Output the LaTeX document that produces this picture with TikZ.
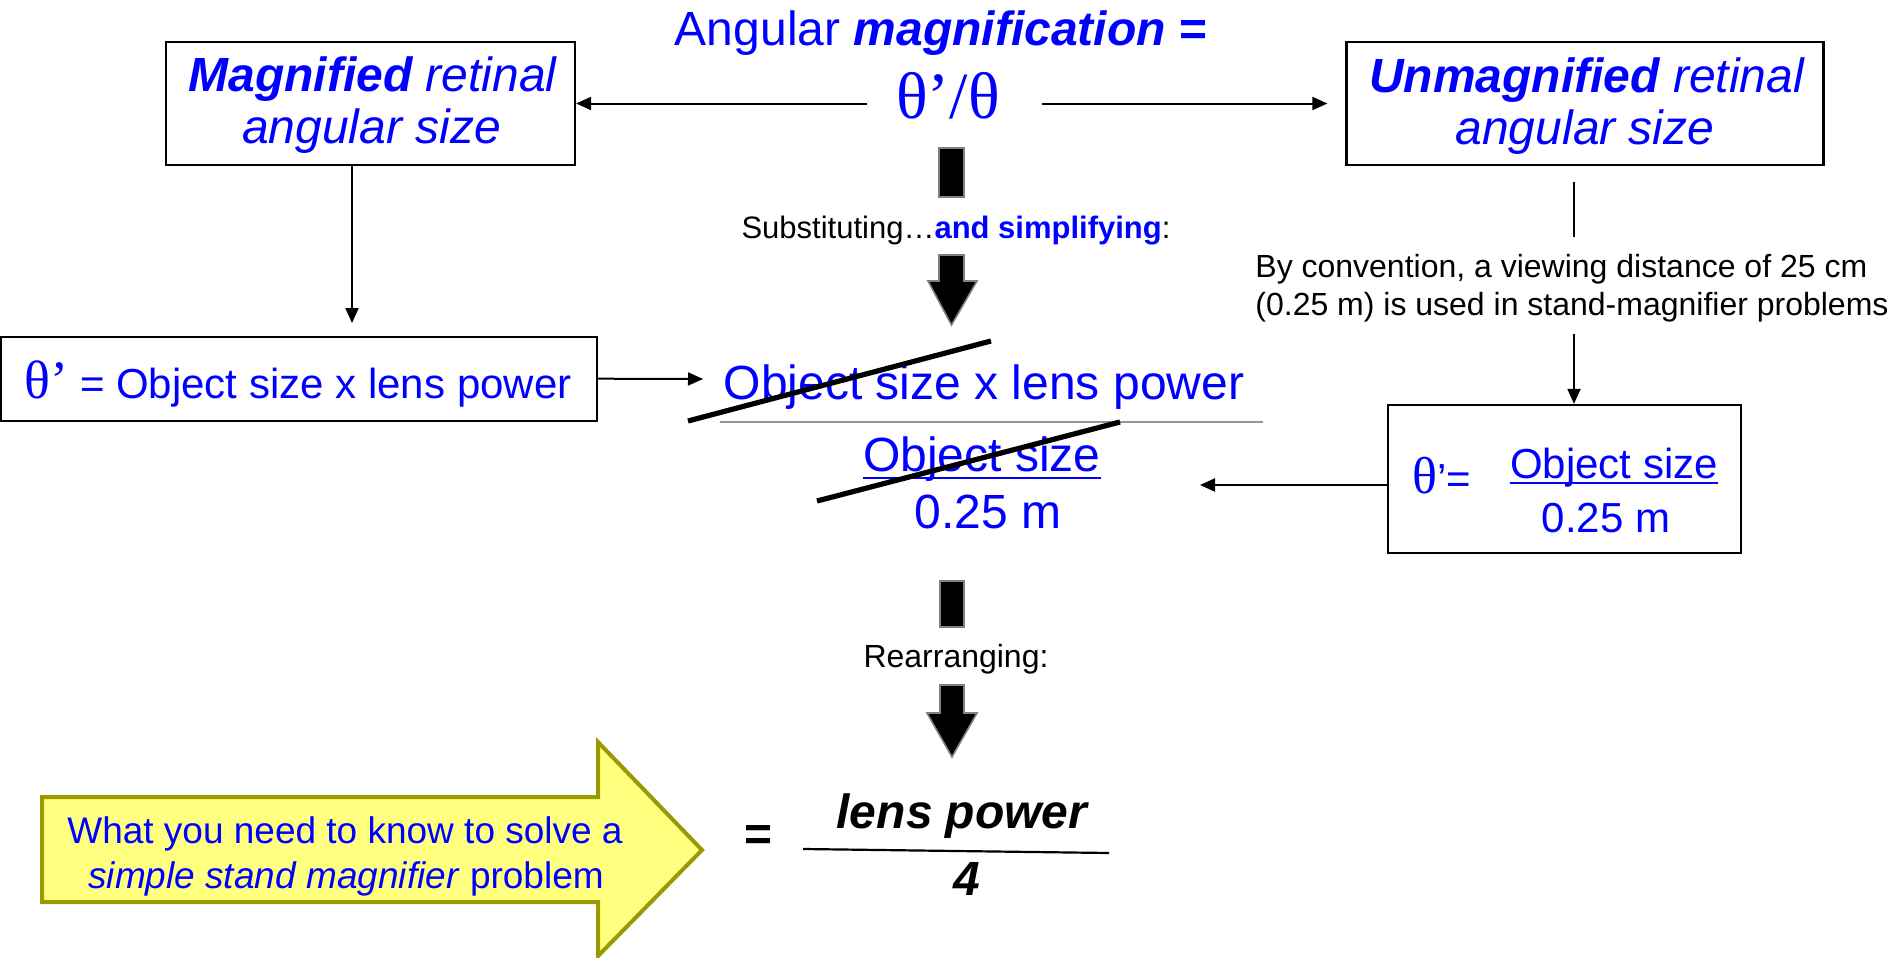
\documentclass[tikz,border=0pt]{standalone}
\usepackage{fontspec}
\setmainfont{Liberation Sans}
\newfontfamily\tms{Liberation Serif}
\usetikzlibrary{arrows.meta}
\definecolor{tblue}{RGB}{0,0,255}
\definecolor{olivebd}{RGB}{153,153,0}
\definecolor{lyellow}{RGB}{255,255,128}
\definecolor{fracgrey}{RGB}{150,150,150}
\newcommand\myfs[1]{\fontsize{#1}{#1}\selectfont}
\begin{document}
\begin{tikzpicture}[x=0.5pt,y=-0.5pt,
  box/.style={draw=black, line width=1.1pt, inner sep=0pt},
  txt/.style={anchor=base, inner sep=0pt, text=tblue},
  btxt/.style={anchor=base, inner sep=0pt, text=black},
  conn/.style={line width=1pt, -{Triangle[length=7.5pt,width=6.5pt]}},
  plainline/.style={line width=1pt},
  blk/.style={fill=black, draw=gray, line width=0.8pt},
  strike/.style={line width=2.6pt, black},
  uline/.style={line width=1pt, tblue}]
\useasboundingbox (0,0) rectangle (1891,958);

% top
\node[txt, font=\myfs{24}] (title) at (941,45) {Angular \textbf{\textit{magnification}} \textbf{=}};
\node[txt, font=\tms\myfs{33}] (ratio) at (948,118) {θ’/θ};

\node[box, minimum width=204.5pt, minimum height=61.5pt] (magbox) at (370.5,103.5) {};
\node[txt, font=\myfs{24}\itshape] (magt1) at (372.6,91) {\textbf{Magnified} retinal};
\node[txt, font=\myfs{24}\itshape] (magt2) at (371.5,143) {angular size};

\node[box, minimum width=238.5pt, minimum height=61.5pt] (unmagbox) at (1585,103.5) {};
\node[txt, font=\myfs{24}\itshape] (unmt1) at (1586.5,92) {\textbf{Unmagnified} retinal};
\node[txt, font=\myfs{24}\itshape] (unmt2) at (1585,144) {angular size};

\draw[conn, shorten <=14.5pt] (ratio.west |- magbox.east) -- (magbox.east);
\draw[conn, shorten <=21pt, shorten >=9pt] (ratio.east |- unmagbox.west) -- (unmagbox.west);

% theta' box
\node[box, minimum width=298pt, minimum height=42pt] (thbox) at (299,378.7) {};
\node[txt, font=\myfs{21}] (tht) at (298,398) {{\tms\myfs{27}θ’} = Object size x lens power};
\coordinate (m1) at (352,323);
\draw[conn] (magbox.south -| m1) -- (m1);
\coordinate (m2) at (703,379);
\draw[conn] (thbox.east) -- (m2);

% central fraction
\node[txt, font=\myfs{24}] (numer) at (984,399) {Object size x lens power};
\draw[line width=1pt, fracgrey] (720,422) -- (1263,422);
\node[txt, font=\myfs{24}] (dobj) at (982,471) {Object size};
\draw[uline] ([yshift=-3.5pt]dobj.base west) -- ([yshift=-3.5pt]dobj.base east);
\node[txt, font=\myfs{24}] (dm) at (988,528) {0.25 m};
\draw[strike] (688,421) -- (991,341);
\draw[strike] (817,501) -- (1120,422);

% convention text and eq box
\node[btxt, font=\myfs{16}, anchor=base west] (conv1) at (1255,277) {By convention, a viewing distance of 25 cm};
\node[btxt, font=\myfs{16}, anchor=base west] (conv2) at (1255,315) {(0.25 m) is used in stand-magnifier problems};
\coordinate (u2) at (1574,237);
\draw[plainline, shorten <=8pt] (unmagbox.south -| u2) -- (u2);
\coordinate (u3) at (1574,334);

\node[box, minimum width=176.5pt, minimum height=74pt] (eqbox) at (1564.5,479) {};
\draw[conn] (u3) -- (eqbox.north -| u3);
\node[txt] (eqth) at (1442,493) {{\tms\myfs{26}θ}{\myfs{21}’=}};
\node[txt, font=\myfs{21}] (eobj) at (1614,478) {Object size};
\draw[uline] ([yshift=-2.5pt]eobj.base west) -- ([yshift=-2.5pt]eobj.base east);
\node[txt, font=\myfs{21}] (em) at (1606,532) {0.25 m};
\coordinate (m3) at (1200,485);
\draw[conn] (eqbox.west |- m3) -- (m3);

% block arrows
\draw[blk] (939,148) rectangle (964,197);
\node[btxt, font=\myfs{15.5}] (subst) at (956,238) {Substituting…\textcolor{tblue}{\textbf{and simplifying}}:};
\draw[blk] (939,255) -- (964,255) -- (964,281) -- (977,281) -- (951.5,325) -- (928,281) -- (939,281) -- cycle;

\draw[blk] (940,581) rectangle (964,627);
\node[btxt, font=\myfs{16}] (rearr) at (956,667) {Rearranging:};
\draw[blk] (940,685) -- (964,685) -- (964,713) -- (977,713) -- (952,757) -- (927,713) -- (940,713) -- cycle;

% yellow arrow
\draw[fill=lyellow, draw=olivebd, line width=2pt] (42,797) -- (598,797) -- (598,742) -- (702,850) -- (598,956) -- (598,902) -- (42,902) -- cycle;
\node[txt, font=\myfs{18.5}] (y1) at (345,843) {What you need to know to solve a};
\node[txt, font=\myfs{18.5}] (y2) at (346,888) {\textit{simple stand magnifier} problem};

% result
\node[btxt, font=\myfs{24}\bfseries, anchor=center] (eqs) at (758.6,838) {=};
\node[btxt, font=\myfs{24}\bfseries\itshape] (lp) at (962,828) {lens power};
\draw[line width=1.1pt] (803,849) -- (1109,853);
\node[btxt, font=\myfs{24}\bfseries\itshape] (four) at (967,895) {4};
\end{tikzpicture}
\end{document}
